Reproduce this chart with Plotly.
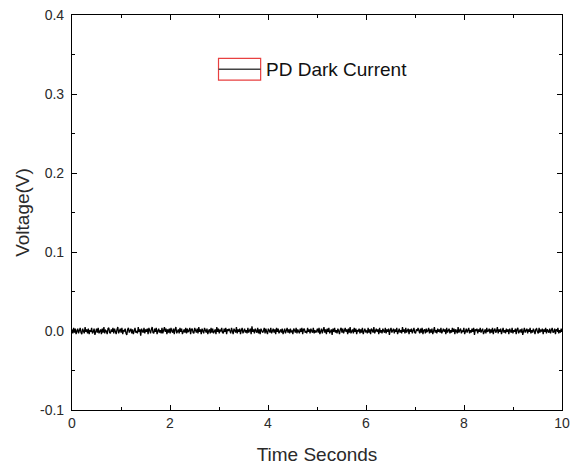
import numpy as np
import plotly.graph_objects as go

# Noise read (estimated) from the picture, in millivolts
noise_mv = [
 2,-3,4,-2,3,-4,0,3,-3,1,4,-2,-4,3,0,-3,5,-1,2,-3,3,-4,1,-1,4,-3,-1,3,-5,2,
 3,-2,4,-3,0,2,-4,3,-2,5,-3,1,0,-4,3,4,-2,-3,2,-1,4,-3,3,0,-4,2,5,-3,-1,3,
 -2,4,-4,1,0,3,-3,-5,2,4,-2,0,3,-3,2,-4,3,4,-2,0,-3,5,-1,2,-6,3,0,-2,4,-3,
 2,-1,3,-4,4,0,-3,2,5,-2,-3,3,-1,4,-4,0,3,-2,1,-3,4,-3,0,5,-1,3,-4,2,-2,3,
 -3,4,0,-2,3,-4,2,5,-3,0,2,-3,4,-1,3,-4,0,2,-2,4,-3,3,-1,0,4,-4,2,3,-2,-3,
 4,0,-2,3,-3,5,-1,2,-4,3,0,-3,4,1,-2,3,-4,0,2,-3,4,-2,3,-3,0,2,-4,5,-1,3,
 -3,1,0,4,-2,-3,3,-1,4,-4,2,0,3,-2,-3,4,1,-4,3,0,-2,5,-3,2,-1,3,-4,1,4,-3,
 0,3,-2,1,-3,4,-2,0,3,-4,6,-1,2,-3,3,0,-2,4,-3,2,-4,3,1,-2,0,4,-3,3,-1,-4,
 3,1,-2,4,-3,0,3,-2,2,-4,4,-1,3,-3,0,2,-2,3,-4,1,3,-3,0,4,-2,2,-3,3,-1,0,
 -4,3,1,-2,4,-3,2,0,-3,3,-1,4,-4,2,3,-2,0,-3,4,-1,2,-3,3,0,-2,4,-3,1,-2,0,
 3,-2,4,-4,1,3,-3,0,5,-2,2,-4,3,-1,4,-3,0,2,-5,3,-1,4,-2,1,-3,3,0,-4,2,4,
 -2,3,-3,0,4,-1,2,-4,3,-2,5,-3,0,2,-3,4,-1,3,-4,1,0,3,-3,2,-2,4,-4,1,3,-1,
 0,-3,4,-2,2,-4,3,1,-2,5,-3,0,3,-1,2,-4,4,-2,1,-3,3,0,-2,4,-3,2,-1,3,-5,1,
 4,-2,0,3,-3,2,-1,4,-4,0,3,-2,1,-3,5,-1,2,-3,4,-2,0,3,-4,2,-1,3,-3,1,4,-2,
 -3,2,0,4,-1,-3,3,-2,4,-4,1,2,-3,3,-1,0,4,-3,2,-2,3,-4,0,5,-2,1,-3,3,-1,2,
 -2,4,-3,0,3,-1,2,-4,4,-2,0,3,-3,1,-2,4,-1,3,-4,2,0,-3,5,-2,1,3,-3,0,-1,4,
 -4,2,3,-2,0,4,-3,1,-2,3,-1,4,-5,2,0,3,-3,2,-1,4,-2,0,3,-4,1,2,-3,4,-1,0,
 3,-3,2,-2,4,-4,1,3,-2,0,5,-3,2,-1,3,-4,0,4,-2,1,-3,3,-1,2,-4,3,0,-2,4,-3,
 1,-1,3,-4,2,4,-3,0,2,-2,3,-5,1,4,-2,0,3,-3,2,-1,4,-3,1,-2,3,0,-4,2,3,-1,
 -3,4,-2,1,0,3,-4,2,-1,4,-3,2,0,-2,3,-3,1,4,-2,-1,3,-4,2,0,4,-3,1,-2,3,-1,
]
t_start, t_end = 0.0, 10.0
series_name = "PD Dark Current"
x_ticks = [0, 2, 4, 6, 8, 10]
y_ticks = [-0.1, 0.0, 0.1, 0.2, 0.3, 0.4]

voltage = [v / 1000.0 for v in noise_mv]
time = np.linspace(t_start, t_end, len(voltage))

FONT = "Liberation Sans, Arial"
TXT = "#2a2a2a"

fig = go.Figure()
fig.add_trace(go.Scatter(x=time, y=voltage, mode="lines",
                         line=dict(color="black", width=1.3),
                         name=series_name, showlegend=False))

axis_common = dict(
    showline=True, linecolor="black", linewidth=1.3, mirror="allticks",
    ticks="inside", ticklen=5, tickcolor="black", tickwidth=1,
    showgrid=False, zeroline=False, automargin=False,
    tickfont=dict(family=FONT, size=14, color=TXT),
    minor=dict(ticks="inside", ticklen=3, tickcolor="black", tickwidth=1),
)

fig.update_xaxes(range=[t_start, t_end], tickvals=x_ticks,
                 ticktext=[str(v) for v in x_ticks],
                 title=dict(text="Time Seconds", standoff=17,
                            font=dict(family=FONT, size=19, color=TXT)),
                 minor_dtick=1, **axis_common)
fig.update_yaxes(range=[-0.1, 0.4], tickvals=y_ticks,
                 ticktext=[f"{v:.1f}&nbsp;" for v in y_ticks],
                 title=dict(text="Voltage(V)", standoff=5,
                            font=dict(family=FONT, size=19, color=TXT)),
                 minor_dtick=0.05, **axis_common)

# Origin-style legend: red box around black line sample, then label
lx0, lx1, ly0, ly1 = 0.299, 0.385, 0.835, 0.890
fig.add_shape(type="rect", xref="paper", yref="paper", x0=lx0, x1=lx1, y0=ly0, y1=ly1,
              line=dict(color="#e84040", width=1.2))
fig.add_shape(type="line", xref="paper", yref="paper", x0=lx0, x1=lx1,
              y0=(ly0 + ly1) / 2, y1=(ly0 + ly1) / 2,
              line=dict(color="#444", width=1.5))
fig.add_annotation(xref="paper", yref="paper", x=lx1 + 0.006, y=(ly0 + ly1) / 2,
                   xanchor="left", yanchor="middle", showarrow=False,
                   text=series_name,
                   font=dict(family=FONT, size=19, color="#111"))

fig.update_layout(width=570, height=470, margin=dict(l=72, r=8, t=15, b=60),
                  paper_bgcolor="white", plot_bgcolor="white")
fig.write_html("out.html", config={"displayModeBar": False},
               post_script="document.body.style.margin='0';")
